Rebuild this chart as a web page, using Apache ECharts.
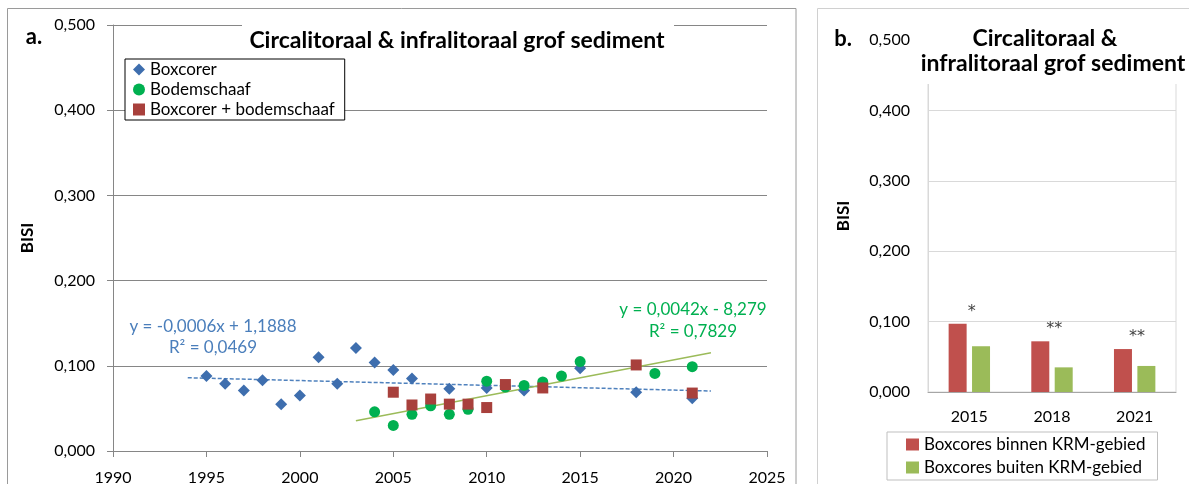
<!DOCTYPE html>
<html><head><meta charset="utf-8">
<script src="https://cdn.jsdelivr.net/npm/echarts@6/dist/echarts.min.js"></script>
<style>html,body{margin:0;padding:0;background:#fff}#c{width:1189px;height:484px}</style>
</head><body><div id="c"></div>
<script>
// ---- Panel a: scatter data ----
const boxYears   = [1995, 1996, 1997, 1998, 1999, 2000, 2001, 2002, 2003, 2004, 2005, 2006, 2008, 2010, 2012, 2015, 2018, 2021];
const boxValues  = [0.088, 0.079, 0.071, 0.083, 0.055, 0.065, 0.110, 0.079, 0.121, 0.104, 0.095, 0.085, 0.073, 0.074, 0.071, 0.097, 0.069, 0.062];
const bodemYears  = [2004, 2005, 2006, 2007, 2008, 2009, 2010, 2011, 2012, 2013, 2014, 2015, 2019, 2021];
const bodemValues = [0.046, 0.030, 0.043, 0.053, 0.043, 0.049, 0.082, 0.075, 0.077, 0.081, 0.088, 0.105, 0.091, 0.099];
const combiYears  = [2005, 2006, 2007, 2008, 2009, 2010, 2011, 2013, 2018, 2021];
const combiValues = [0.069, 0.054, 0.061, 0.055, 0.055, 0.051, 0.078, 0.074, 0.101, 0.068];
// trend lines (end points)
const boxTrendYears = [1994, 2022];
const boxTrendValues = [0.086, 0.0704];
const bodemTrendYears = [2003, 2022];
const bodemTrendValues = [0.0356, 0.1154];
const boxEquation = ['y = -0,0006x + 1,1888', 'R² = 0,0469'];
const bodemEquation = ['y = 0,0042x - 8,279', 'R² = 0,7829'];
const seriesNamesA = ['Boxcorer', 'Bodemschaaf', 'Boxcorer + bodemschaaf'];
const titleA = 'Circalitoraal & infralitoraal grof sediment';

// ---- Panel b: bar data ----
const barYears = ['2015', '2018', '2021'];
const binnenValues = [0.097, 0.072, 0.061];
const buitenValues = [0.065, 0.035, 0.037];
const stars = ['*', '**', '**'];
const seriesNamesB = ['Boxcores binnen KRM-gebied', 'Boxcores buiten KRM-gebied'];
const titleB = ['Circalitoraal &', 'infralitoraal grof sediment'];

const FONT = 'Lato';
const zip = (xs, ys) => xs.map((x, i) => [x, ys[i]]);
const fmt = v => v.toFixed(3).replace('.', ',');

const chart = echarts.init(document.getElementById('c'));
const option = {
  animation: false,
  textStyle: { fontFamily: FONT },
  grid: [
    { left: 113, top: 25, width: 654, height: 426, outerBoundsMode: 'none', containLabel: false },
    { left: 928, top: 40, width: 248, height: 352, show: true, borderColor: '#d9d9d9', borderWidth: 1, outerBoundsMode: 'none', containLabel: false }
  ],
  xAxis: [
    { type: 'value', gridIndex: 0, min: 1990, max: 2025, interval: 5,
      axisLine: { show: true, onZero: false, lineStyle: { color: '#868686' } },
      axisTick: { show: true, length: 6, lineStyle: { color: '#868686' } },
      splitLine: { show: false },
      axisLabel: { formatter: v => String(v), fontSize: 16, color: '#000', margin: 19, fontFamily: FONT } },
    { type: 'category', gridIndex: 1, data: barYears,
      axisLine: { lineStyle: { color: '#a6a6a6' } },
      axisTick: { show: false },
      axisLabel: { fontSize: 16, color: '#000', margin: 17, fontFamily: FONT } }
  ],
  yAxis: [
    { type: 'value', gridIndex: 0, min: 0, max: 0.5, interval: 0.1,
      axisLine: { show: true, lineStyle: { color: '#868686' } },
      axisTick: { show: true, length: 6, lineStyle: { color: '#868686' } },
      splitLine: { lineStyle: { color: '#868686' } },
      axisLabel: { formatter: fmt, fontSize: 16, color: '#000', margin: 18, fontFamily: FONT },
      name: 'BISI', nameLocation: 'middle', nameGap: 77, nameRotate: 90,
      nameTextStyle: { fontWeight: 'bold', fontSize: 17, color: '#000', fontFamily: FONT } },
    { type: 'value', gridIndex: 1, min: 0, max: 0.5, interval: 0.1,
      axisLine: { show: true, lineStyle: { color: '#d9d9d9' } },
      axisTick: { show: false },
      splitLine: { lineStyle: { color: '#d9d9d9' } },
      axisLabel: { formatter: fmt, fontSize: 16, color: '#000', margin: 18, fontFamily: FONT },
      name: 'BISI', nameLocation: 'middle', nameGap: 76, nameRotate: 90,
      nameTextStyle: { fontWeight: 'bold', fontSize: 17, color: '#000', fontFamily: FONT } }
  ],
  legend: [
    { data: [
        { name: seriesNamesA[0], icon: 'diamond' },
        { name: seriesNamesA[1], icon: 'circle' },
        { name: seriesNamesA[2], icon: 'rect' }],
      orient: 'vertical', left: 125, top: 59, padding: [2, 10, 2, 8], itemGap: 3,
      itemWidth: 12, itemHeight: 12, borderColor: '#000', borderWidth: 1, backgroundColor: '#fff',
      textStyle: { fontSize: 17, color: '#000', fontFamily: FONT } },
    { data: seriesNamesB.map(n => ({ name: n, icon: 'rect' })),
      orient: 'vertical', left: 887, top: 432, padding: [4, 12, 4, 19], itemGap: 6,
      itemWidth: 13, itemHeight: 12, borderColor: '#bfbfbf', borderWidth: 1, backgroundColor: '#fff',
      textStyle: { fontSize: 17, color: '#000', fontFamily: FONT } }
  ],
  series: [
    { name: 'trend boxcorer', type: 'line', xAxisIndex: 0, yAxisIndex: 0, data: zip(boxTrendYears, boxTrendValues),
      showSymbol: false, silent: true, lineStyle: { color: '#4F81BD', width: 1.5, type: [4, 2] }, z: 1 },
    { name: 'trend bodemschaaf', type: 'line', xAxisIndex: 0, yAxisIndex: 0, data: zip(bodemTrendYears, bodemTrendValues),
      showSymbol: false, silent: true, lineStyle: { color: '#9BBB59', width: 1.5 }, z: 1 },
    { name: seriesNamesA[0], type: 'scatter', xAxisIndex: 0, yAxisIndex: 0, data: zip(boxYears, boxValues),
      symbol: 'diamond', symbolSize: 12, itemStyle: { color: '#3E6EAE', opacity: 1 }, z: 3 },
    { name: seriesNamesA[1], type: 'scatter', xAxisIndex: 0, yAxisIndex: 0, data: zip(bodemYears, bodemValues),
      symbol: 'circle', symbolSize: 11, itemStyle: { color: '#00B050', opacity: 1 }, z: 4 },
    { name: seriesNamesA[2], type: 'scatter', xAxisIndex: 0, yAxisIndex: 0, data: zip(combiYears, combiValues),
      symbol: 'rect', symbolSize: 11, itemStyle: { color: '#A8403C', opacity: 1 }, z: 5 },
    { name: seriesNamesB[0], type: 'bar', xAxisIndex: 1, yAxisIndex: 1, data: binnenValues,
      barWidth: 18, barGap: '30%', itemStyle: { color: '#C0504D' },
      label: { show: true, position: 'top', offset: [14, 1], formatter: p => stars[p.dataIndex],
               fontSize: 16, color: '#404040', fontFamily: 'DejaVu Sans' } },
    { name: seriesNamesB[1], type: 'bar', xAxisIndex: 1, yAxisIndex: 1, data: buitenValues,
      barWidth: 18, barGap: '30%', itemStyle: { color: '#9BBB59' } }
  ],
  graphic: [
    // panel frames
    { type: 'rect', z: 0, shape: { x: 7.5, y: 8.5, width: 788.5, height: 490 }, style: { fill: 'none', stroke: '#9a9a9a', lineWidth: 1 } },
    { type: 'rect', z: 0, shape: { x: 817.5, y: 8.5, width: 400, height: 490 }, style: { fill: 'none', stroke: '#d0d0d0', lineWidth: 1 } },
    // title backgrounds
    { type: 'rect', z: 90, shape: { x: 242, y: 14, width: 432, height: 22 }, style: { fill: '#fff' } },
    { type: 'rect', z: 90, shape: { x: 918, y: 18, width: 270, height: 66 }, style: { fill: '#fff' } },
    // titles
    { type: 'text', z: 100, x: 457, y: 41, style: { text: titleA, font: 'bold 23px ' + FONT, fill: '#000', align: 'center', verticalAlign: 'middle' } },
    { type: 'text', z: 100, x: 1045, y: 39, style: { text: titleB[0], font: 'bold 23px ' + FONT, fill: '#000', align: 'center', verticalAlign: 'middle' } },
    { type: 'text', z: 100, x: 1053, y: 64, style: { text: titleB[1], font: 'bold 23px ' + FONT, fill: '#000', align: 'center', verticalAlign: 'middle' } },
    // panel letters
    { type: 'text', z: 100, x: 34, y: 37, style: { text: 'a.', font: 'bold 22px ' + FONT, fill: '#000', align: 'center', verticalAlign: 'middle' } },
    { type: 'text', z: 100, x: 843, y: 39, style: { text: 'b.', font: 'bold 22px ' + FONT, fill: '#000', align: 'center', verticalAlign: 'middle' } },
    // regression equations
    { type: 'text', z: 100, x: 213, y: 327, style: { text: boxEquation[0], font: '17px ' + FONT, fill: '#4A7EBB', align: 'center', verticalAlign: 'middle' } },
    { type: 'text', z: 100, x: 213, y: 348, style: { text: boxEquation[1], font: '17px ' + FONT, fill: '#4A7EBB', align: 'center', verticalAlign: 'middle' } },
    { type: 'text', z: 100, x: 693, y: 310, style: { text: bodemEquation[0], font: '17px ' + FONT, fill: '#00B050', align: 'center', verticalAlign: 'middle' } },
    { type: 'text', z: 100, x: 693, y: 332, style: { text: bodemEquation[1], font: '17px ' + FONT, fill: '#00B050', align: 'center', verticalAlign: 'middle' } }
  ]
};
chart.setOption(option);
</script>
</body></html>
